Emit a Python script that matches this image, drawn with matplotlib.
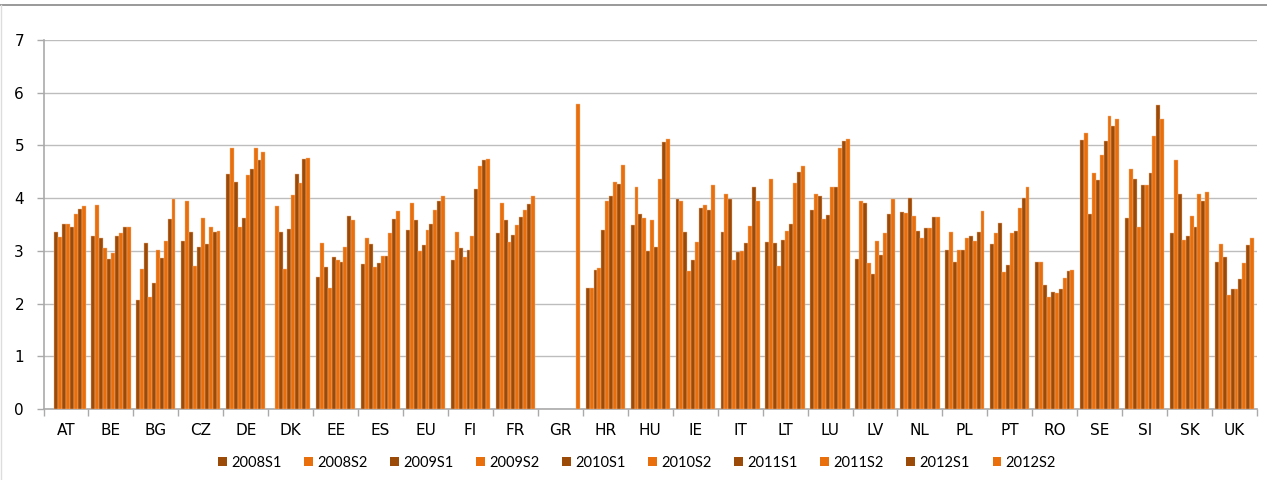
import numpy as np
import matplotlib.pyplot as plt

nan = np.nan

countries = ['AT', 'BE', 'BG', 'CZ', 'DE', 'DK', 'EE', 'ES', 'EU', 'FI', 'FR', 'GR', 'HR', 'HU',
             'IE', 'IT', 'LT', 'LU', 'LV', 'NL', 'PL', 'PT', 'RO', 'SE', 'SI', 'SK', 'UK']
periods = ['2008S1', '2008S2', '2009S1', '2009S2', '2010S1',
           '2010S2', '2011S1', '2011S2', '2012S1', '2012S2']

# one row per country, one column per half-year
AT = [nan, nan, 3.36, 3.26, 3.50, 3.51, 3.46, 3.70, 3.79, 3.85]
BE = [3.28, 3.87, 3.24, 3.05, 2.84, 2.95, 3.28, 3.33, 3.46, 3.46]
BG = [2.06, 2.66, 3.15, 2.13, 2.39, 3.02, 2.86, 3.18, 3.61, 3.99]
CZ = [3.19, 3.94, 3.35, 2.72, 3.07, 3.62, 3.13, 3.45, 3.35, 3.37]
DE = [4.46, 4.96, 4.30, 3.45, 3.63, 4.44, 4.56, 4.96, 4.73, 4.87]
DK = [nan, 3.85, 3.36, 2.66, 3.42, 4.06, 4.45, 4.28, 4.75, 4.77]
EE = [2.51, 3.15, 2.70, 2.30, 2.89, 2.83, 2.79, 3.08, 3.67, 3.58]
ES = [2.75, 3.24, 3.13, 2.70, 2.77, 2.91, 2.91, 3.33, 3.61, 3.75]
EU = [3.40, 3.90, 3.59, 3.00, 3.11, 3.39, 3.50, 3.78, 3.94, 4.04]
FI = [2.83, 3.35, 3.06, 2.89, 3.01, 3.28, 4.18, 4.61, 4.73, 4.75]
FR = [3.33, 3.90, 3.59, 3.17, 3.30, 3.49, 3.65, 3.78, 3.89, 4.04]
GR = [nan, nan, nan, nan, nan, nan, nan, nan, nan, 5.79]
HR = [2.29, 2.30, 2.63, 2.68, 3.40, 3.94, 4.04, 4.31, 4.27, 4.62]
HU = [3.49, 4.22, 3.70, 3.62, 3.00, 3.58, 3.08, 4.37, 5.06, 5.13]
IE = [3.99, 3.95, 3.35, 2.62, 2.82, 3.17, 3.82, 3.87, 3.78, 4.24]
IT = [3.36, 4.07, 3.99, 2.82, 2.97, 3.00, 3.15, 3.47, 4.21, 3.95]
LT = [3.16, 4.36, 3.15, 2.72, 3.21, 3.38, 3.50, 4.29, 4.49, 4.61]
LU = [3.78, 4.07, 4.04, 3.61, 3.68, 4.22, 4.22, 4.96, 5.09, 5.13]
LV = [2.84, 3.95, 3.90, 2.77, 2.56, 3.18, 2.92, 3.33, 3.70, 3.99]
NL = [3.73, 3.72, 4.01, 3.66, 3.37, 3.24, 3.44, 3.44, 3.65, 3.65]
PL = [3.01, 3.36, 2.78, 3.01, 3.01, 3.24, 3.28, 3.18, 3.36, 3.75]
PT = [3.13, 3.33, 3.53, 2.59, 2.74, 3.34, 3.37, 3.82, 4.00, 4.21]
RO = [2.79, 2.79, 2.35, 2.13, 2.22, 2.20, 2.27, 2.49, 2.61, 2.63]
SE = [5.11, 5.23, 3.70, 4.48, 4.34, 4.82, 5.08, 5.56, 5.37, 5.50]
SI = [3.63, 4.56, 4.36, 3.45, 4.25, 4.25, 4.47, 5.18, 5.76, 5.51]
SK = [3.34, 4.72, 4.08, 3.21, 3.28, 3.67, 3.45, 4.08, 3.94, 4.12]
UK = [2.78, 3.13, 2.89, 2.17, 2.27, 2.28, 2.46, 2.77, 3.11, 3.24]

values = np.array([AT, BE, BG, CZ, DE, DK, EE, ES, EU, FI, FR, GR, HR, HU,
                   IE, IT, LT, LU, LV, NL, PL, PT, RO, SE, SI, SK, UK])

dark = '#9C4A08'
orange = '#E86F0C'

fig = plt.figure(figsize=(12.67, 4.8), dpi=100)
ax = fig.add_axes([43.5 / 1267, 71 / 480, (1257 - 43.5) / 1267, (409 - 40) / 480])

x = np.arange(len(countries))
n = len(periods)
w = 0.873 / n
for i, p in enumerate(periods):
    col = dark if i % 2 == 0 else orange
    ax.bar(x - 0.4365 + w * (i + 0.5), values[:, i], width=w, color=col,
           edgecolor='#F4B98A', linewidth=0.3, label=p, zorder=3)

ax.set_xlim(-0.5, len(countries) - 0.5)
ax.set_ylim(0, 7)
ax.set_yticks(range(8))
ax.yaxis.grid(True, color='#BDBDBD', linewidth=1.0, zorder=0)

# category labels centred, ticks on group boundaries
ax.set_xticks(x)
ax.set_xticklabels(countries, fontsize=11)
ax.tick_params(axis='x', length=0, pad=10)
ax.set_xticks(np.arange(len(countries) + 1) - 0.5, minor=True)
ax.tick_params(axis='x', which='minor', length=5, color='#AAAAAA', width=1)
ax.tick_params(axis='y', length=5, color='#AAAAAA', width=1, labelsize=11, pad=9)

for s in ['top', 'right']:
    ax.spines[s].set_visible(False)
ax.spines['left'].set_color('#AAAAAA')
ax.spines['bottom'].set_color('#AAAAAA')
ax.spines['left'].set_linewidth(1.2)
ax.spines['bottom'].set_linewidth(1.2)

leg = fig.legend(loc='center', bbox_to_anchor=(637 / 1267, 1 - 463 / 480), ncol=10,
                 frameon=False, handlelength=0.6, handleheight=0.6,
                 handletextpad=0.3, columnspacing=1.55, prop={'family': 'Lato', 'size': 10.5})
for h in leg.legend_handles:
    h.set_edgecolor('none')

# frame lines of the surrounding document
fig.add_artist(plt.Line2D([0, 1], [1 - 4.5 / 480, 1 - 4.5 / 480], color='#888888', lw=1.2))
fig.add_artist(plt.Line2D([1 / 1267, 1 / 1267], [0, 1 - 4.5 / 480], color='#DDDDDD', lw=1))

fig.savefig('out.png', dpi=100)
